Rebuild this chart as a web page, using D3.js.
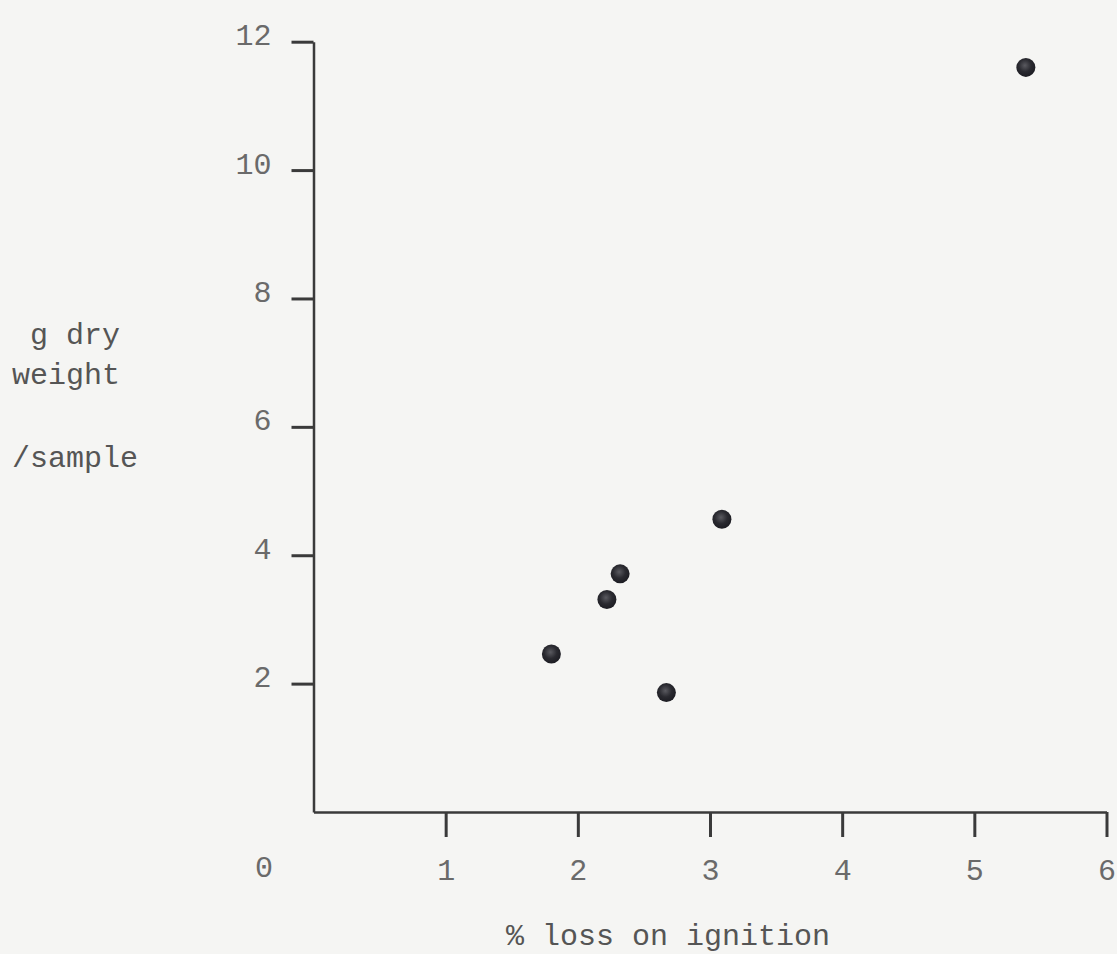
<!DOCTYPE html>
<html>
<head>
<meta charset="utf-8">
<script src="https://cdn.jsdelivr.net/npm/d3@7"></script>
<style>
  html, body { margin: 0; padding: 0; background: #f5f5f3; }
  svg { display: block; }
  text { font-family: "Liberation Mono", "DejaVu Sans Mono", monospace; }
</style>
</head>
<body>
<svg id="chart" width="1117" height="954"></svg>
<script>
// Loss on ignition (%) against dry weight per sample (g)
const lossOnIgnition = [5.39, 3.09, 2.32, 2.22, 1.80, 2.67];
const dryWeight      = [11.60, 4.56, 3.71, 3.31, 2.46, 1.86];

const xTicks = [1, 2, 3, 4, 5, 6];
const yTicks = [2, 4, 6, 8, 10, 12];
const originLabel = "0";
const xTitle = "% loss on ignition";
const yTitleLines = [" g dry", "weight", "/sample"];

const svg = d3.select("#chart");

const x = d3.scaleLinear().domain([0, 6]).range([313.5, 1106.5]);
const y = d3.scaleLinear().domain([0, 12]).range([812, 41.7]);

const ink = "#3a3a3a";
const textInk = "#6a6a6a";

// shading for the round dots
const defs = svg.append("defs");
const grad = defs.append("radialGradient")
  .attr("id", "dotShade").attr("cx", "45%").attr("cy", "40%").attr("r", "60%");
grad.append("stop").attr("offset", "0%").attr("stop-color", "#5a5a60");
grad.append("stop").attr("offset", "55%").attr("stop-color", "#2a2a30");
grad.append("stop").attr("offset", "100%").attr("stop-color", "#1c1c22");

// y axis
const yAxis = svg.append("g")
  .attr("transform", `translate(${x(0)},0)`)
  .call(d3.axisLeft(y).tickValues(yTicks).tickFormat(d3.format("d"))
    .tickSize(22).tickSizeOuter(0).tickPadding(20));
yAxis.select(".domain").attr("stroke", ink).attr("stroke-width", 2.5);
yAxis.selectAll(".tick line").attr("stroke", ink).attr("stroke-width", 3);
yAxis.selectAll(".tick text")
  .attr("fill", textInk).attr("font-size", 30).attr("dy", "0.1em")
  .attr("font-family", "Liberation Mono, monospace");

// x axis
const xAxis = svg.append("g")
  .attr("transform", `translate(0,${y(0)})`)
  .call(d3.axisBottom(x).tickValues(xTicks).tickFormat(d3.format("d"))
    .tickSize(25).tickSizeOuter(0).tickPadding(22));
xAxis.select(".domain").attr("stroke", ink).attr("stroke-width", 2.5);
xAxis.selectAll(".tick line").attr("stroke", ink).attr("stroke-width", 3);
xAxis.selectAll(".tick text")
  .attr("fill", textInk).attr("font-size", 30)
  .attr("font-family", "Liberation Mono, monospace");

// shared origin label
svg.append("text")
  .attr("x", 264).attr("y", 877)
  .attr("text-anchor", "middle")
  .attr("fill", textInk).attr("font-size", 30)
  .text(originLabel);

// axis titles
svg.append("text")
  .attr("x", 506).attr("y", 945)
  .attr("fill", "#555").attr("font-size", 30)
  .attr("xml:space", "preserve")
  .text(xTitle);

const yTitleBaselines = [344, 384, 467];
svg.selectAll("text.ytitle")
  .data(yTitleLines)
  .join("text")
  .attr("class", "ytitle")
  .attr("x", 12)
  .attr("y", (d, i) => yTitleBaselines[i])
  .attr("fill", "#555").attr("font-size", 30)
  .attr("xml:space", "preserve")
  .text(d => d);

// data points
svg.append("g")
  .selectAll("circle")
  .data(lossOnIgnition.map((v, i) => [v, dryWeight[i]]))
  .join("circle")
  .attr("cx", d => x(d[0]))
  .attr("cy", d => y(d[1]))
  .attr("r", 9.5)
  .attr("fill", "url(#dotShade)");
</script>
</body>
</html>
